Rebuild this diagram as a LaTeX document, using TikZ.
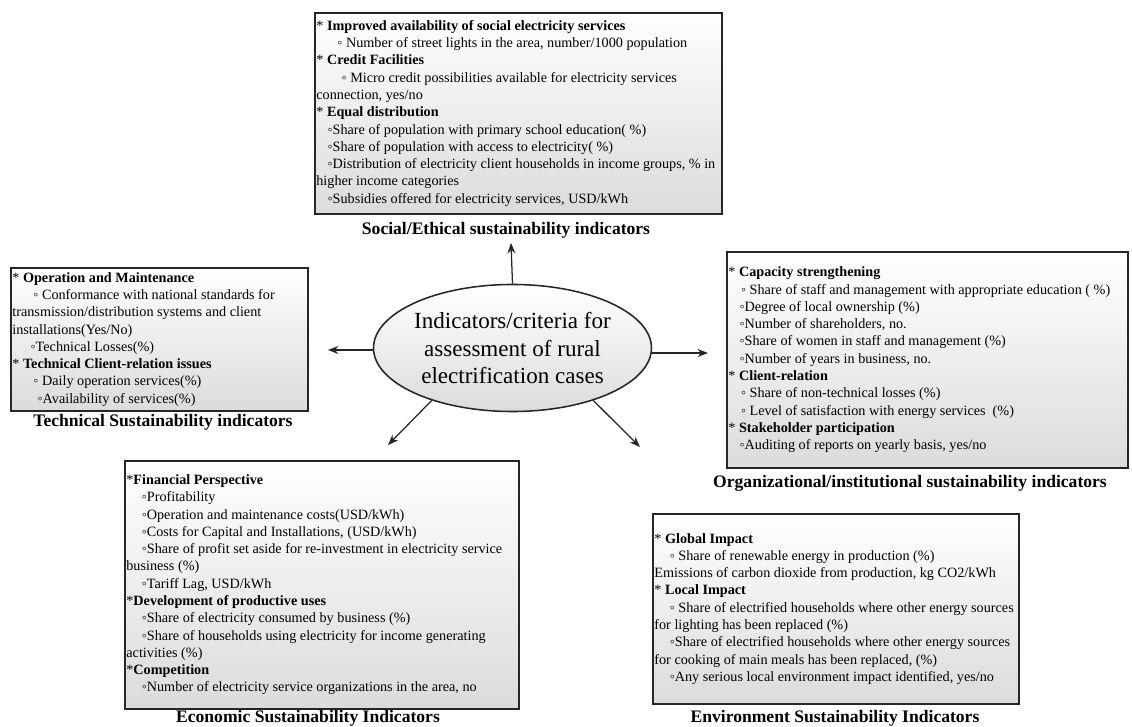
\documentclass[tikz,border=0pt]{standalone}
\usepackage{fontspec}
\setmainfont{Liberation Serif}
\usepackage{tikz}
\usetikzlibrary{arrows.meta,positioning,shapes.geometric}
\newcommand{\subind}[1]{\hspace*{#1pt}}
\tikzset{
  panel/.style={draw=black!85,line width=1.1pt,shade,top color=white,
    bottom color=black!14,anchor=north west,inner sep=0pt},
  paneltext/.style={anchor=west,align=left,inner sep=1.5pt,
    font=\fontsize{10.1}{12.3}\selectfont},
  heading/.style={font=\fontsize{12.5}{14}\selectfont\bfseries},
  hub/.style={ellipse,draw=black!85,line width=1.1pt,shade,top color=white,
    bottom color=black!14,inner sep=0pt,align=center,
    font=\fontsize{16.4}{19.6}\selectfont},
  flow/.style={-{Stealth[length=2.6mm,width=2mm]},line width=0.9pt,black!85}
}
\begin{document}
\begin{tikzpicture}[x=0.025cm,y=-0.025cm]
  \useasboundingbox (0,0) rectangle (1132,727);
  % Centre
  \node[hub,minimum width=6.675cm,minimum height=3.175cm] (centre) at (512.5,348)
    {Indicators/criteria for\\assessment of rural\\electrification cases};
  % Social / ethical
  \node[panel,minimum width=10.175cm,minimum height=5.025cm] (soc) at (314,12) {};
  \node[paneltext] (socText) at (soc.west) {%
    * \textbf{Improved availability of social electricity services}\\
    \subind{15}◦ Number of street lights in the area, number/1000 population\\
    * \textbf{Credit Facilities}\\
    \subind{18}◦ Micro credit possibilities available for electricity services\\
    connection, yes/no\\
    * \textbf{Equal distribution}\\
    \subind{8}◦Share of population with primary school education( \%)\\
    \subind{8}◦Share of population with access to electricity( \%)\\
    \subind{8}◦Distribution of electricity client households in income groups, \% in\\
    higher income categories\\
    \subind{8}◦Subsidies offered for electricity services, USD/kWh};
  \node[heading] (socTitle) at (506,230) {Social/Ethical sustainability indicators};
  % Technical
  \node[panel,minimum width=7.425cm,minimum height=3.575cm] (tech) at (10,267) {};
  \node[paneltext] (techText) at (tech.west) {%
    * \textbf{Operation and Maintenance}\\
    \subind{15}◦ Conformance with national standards for\\
    transmission/distribution systems and client\\
    installations(Yes/No)\\
    \subind{13}◦Technical Losses(\%)\\
    * \textbf{Technical Client-relation issues}\\
    \subind{15}◦ Daily operation services(\%)\\
    \subind{18}◦Availability of services(\%)};
  \node[heading] (techTitle) at (163,422) {Technical Sustainability indicators};
  % Organizational / institutional
  \node[panel,minimum width=10.025cm,minimum height=5.4cm] (org) at (726,251) {};
  \node[paneltext] (orgText) at (org.west) {%
    * \textbf{Capacity strengthening}\\
    \subind{9}◦ Share of staff and management with appropriate education ( \%)\\
    \subind{8}◦Degree of local ownership (\%)\\
    \subind{8}◦Number of shareholders, no.\\
    \subind{8}◦Share of women in staff and management (\%)\\
    \subind{8}◦Number of years in business, no.\\
    * \textbf{Client-relation}\\
    \subind{9}◦ Share of non-technical losses (\%)\\
    \subind{9}◦ Level of satisfaction with energy services~ (\%)\\
    * \textbf{Stakeholder participation}\\
    \subind{8}◦Auditing of reports on yearly basis, yes/no};
  \node[heading] (orgTitle) at (910,483) {Organizational/institutional sustainability indicators};
  % Economic
  \node[panel,minimum width=9.85cm,minimum height=6.2cm] (econ) at (124,460) {};
  \node[paneltext] (econText) at (econ.west) {%
    *\textbf{Financial Perspective}\\
    \subind{11}◦Profitability\\
    \subind{11}◦Operation and maintenance costs(USD/kWh)\\
    \subind{11}◦Costs for Capital and Installations, (USD/kWh)\\
    \subind{11}◦Share of profit set aside for re-investment in electricity service\\
    business (\%)\\
    \subind{11}◦Tariff Lag, USD/kWh\\
    *\textbf{Development of productive uses}\\
    \subind{11}◦Share of electricity consumed by business (\%)\\
    \subind{11}◦Share of households using electricity for income generating\\
    activities (\%)\\
    *\textbf{Competition}\\
    \subind{11}◦Number of electricity service organizations in the area, no};
  \node[heading] (econTitle) at (308,718) {Economic Sustainability Indicators};
  % Environment
  \node[panel,minimum width=9.15cm,minimum height=4.75cm] (env) at (652,513) {};
  \node[paneltext] (envText) at (env.west) {%
    * \textbf{Global Impact}\\
    \subind{11}◦ Share of renewable energy in production (\%)\\
    Emissions of carbon dioxide from production, kg CO2/kWh\\
    * \textbf{Local Impact}\\
    \subind{11}◦ Share of electrified households where other energy sources\\
    for lighting has been replaced (\%)\\
    \subind{11}◦Share of electrified households where other energy sources\\
    for cooking of main meals has been replaced, (\%)\\
    \subind{11}◦Any serious local environment impact identified, yes/no};
  \node[heading] (envTitle) at (835,718) {Environment Sustainability Indicators};
  % Arrows
  \coordinate (socEnd) at (511,243);
  \coordinate (techEnd) at (328,350);
  \coordinate (orgEnd) at (708,353);
  \coordinate (econEnd) at (388,445);
  \coordinate (envEnd) at (640,447);
  \draw[flow] (centre.north) -- (socEnd);
  \draw[flow] (centre.west |- techEnd) -- (techEnd);
  \draw[flow] (centre.east |- orgEnd) -- (orgEnd);
  \draw[flow] (centre.213) -- (econEnd);
  \draw[flow] (centre.327) -- (envEnd);
\end{tikzpicture}
\end{document}
